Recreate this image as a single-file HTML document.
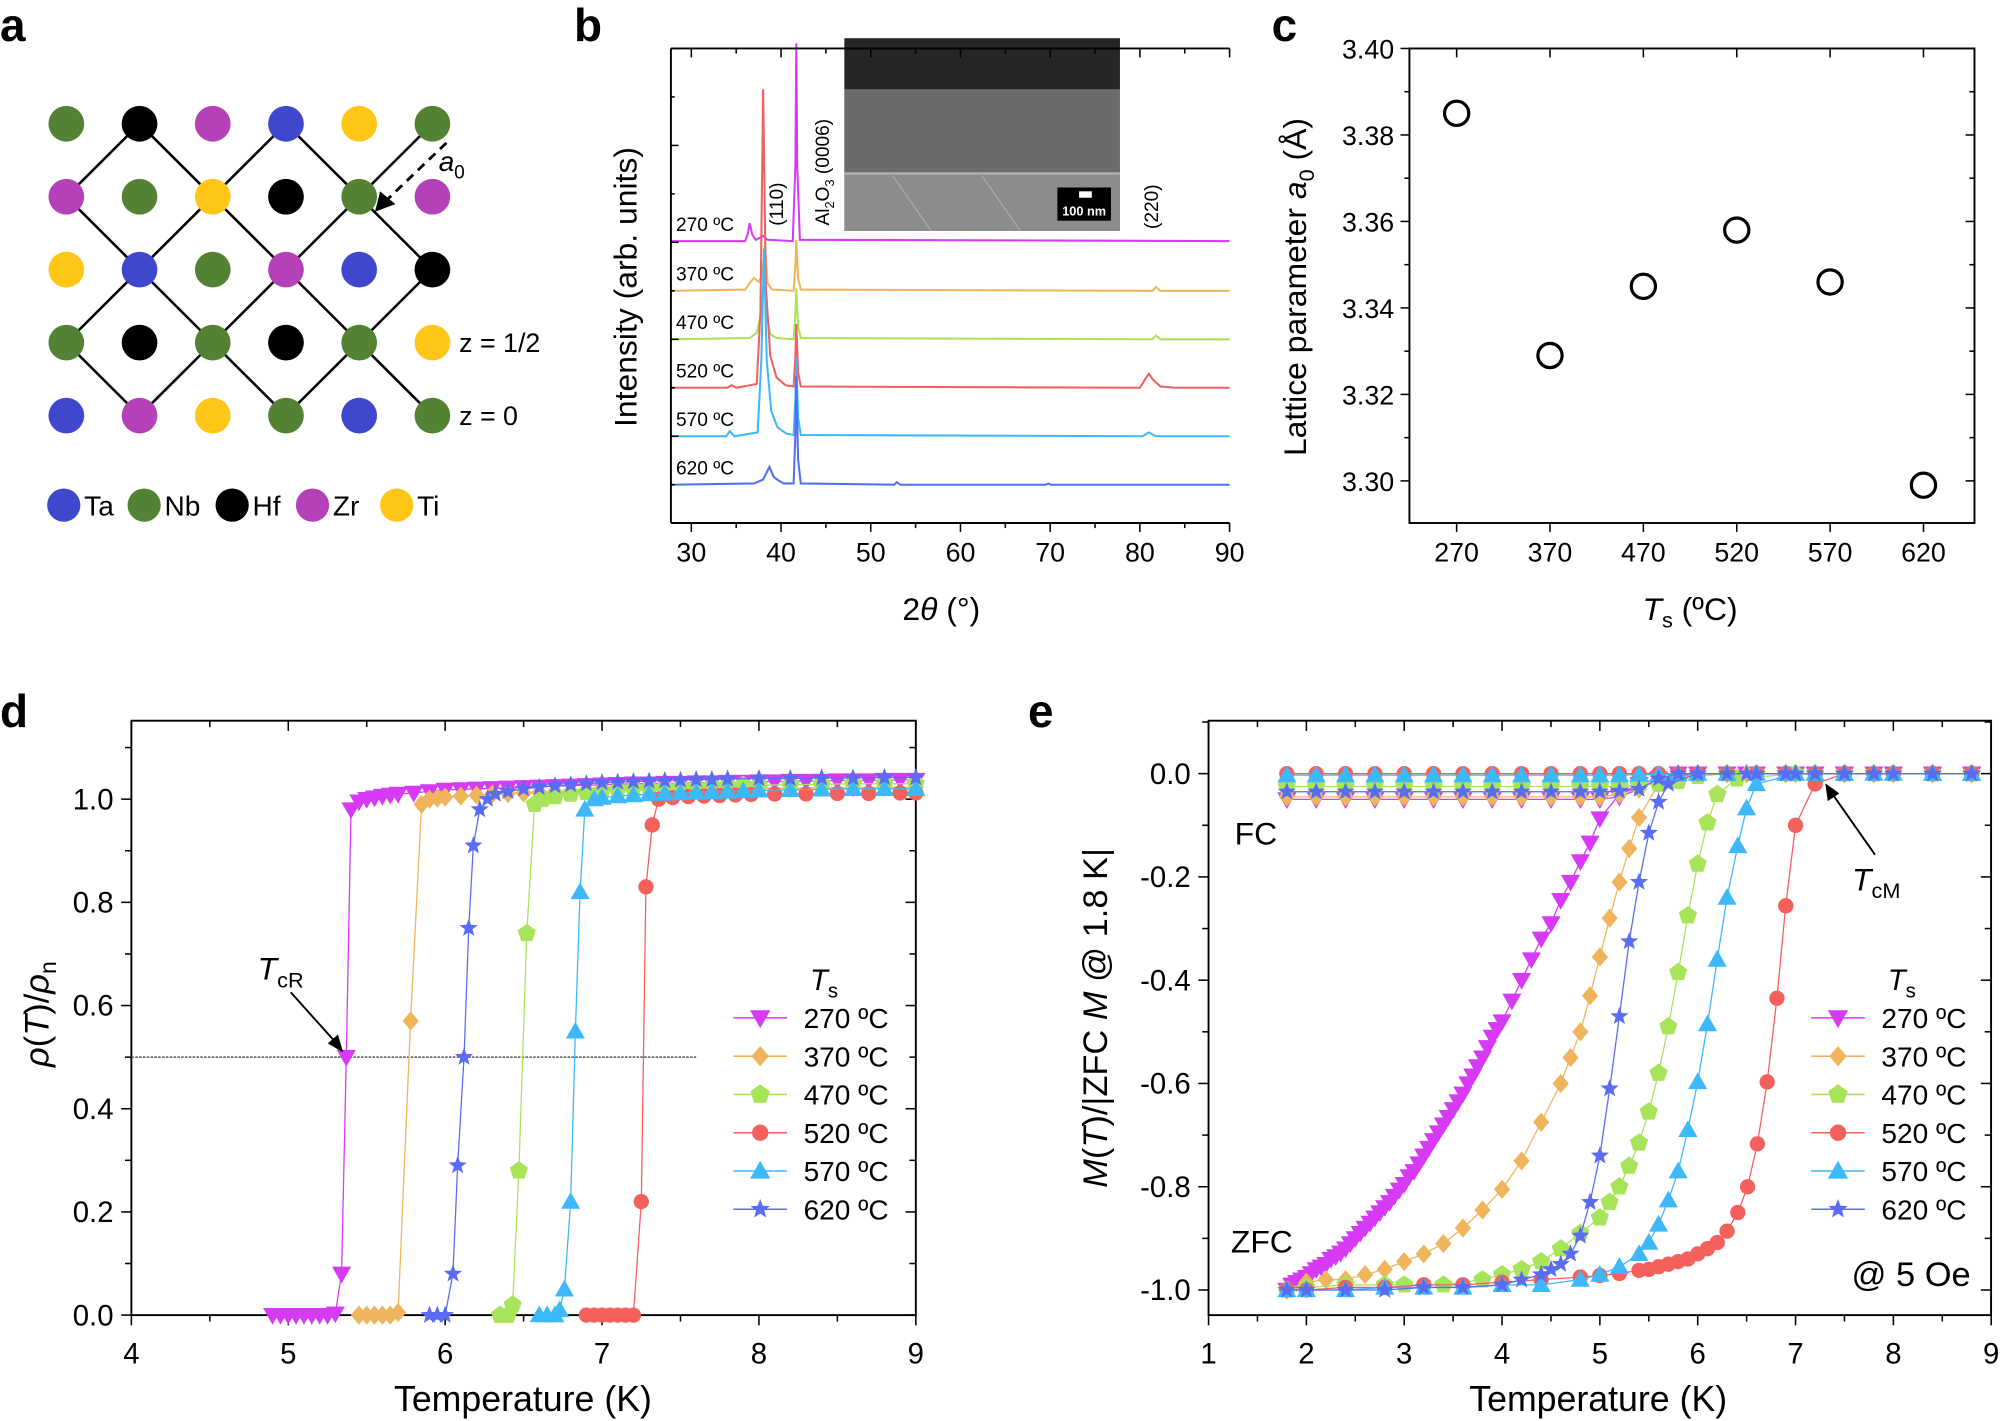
<!DOCTYPE html>
<html><head><meta charset="utf-8"><style>
html,body{margin:0;padding:0;background:#fff;}
svg{display:block;font-family:"Liberation Sans",Arial,sans-serif;}
</style></head><body>
<svg id="fig" xmlns="http://www.w3.org/2000/svg" width="2000" height="1421" viewBox="0 0 1568 1114" preserveAspectRatio="none">
<rect x="0" y="0" width="1568" height="1114" fill="#fff"/>
<g font-weight="bold" font-size="36" fill="#000">
<text x="0" y="32">a</text>
<text x="450" y="32">b</text>
<text x="997" y="32">c</text>
<text x="0" y="570">d</text>
<text x="806" y="570">e</text>
</g>
<g id="pa"></g>
<g id="pb"></g>
<g id="pc"></g>
<g id="pd"></g>
<g id="pe"></g>
</svg>
<script>
// ---------- DATA ----------
const latticeGrid=[["Nb","Hf","Zr","Ta","Ti","Nb"],["Zr","Nb","Ti","Hf","Nb","Zr"],["Ti","Ta","Nb","Zr","Ta","Hf"],["Nb","Hf","Nb","Hf","Nb","Ti"],["Ta","Zr","Ti","Nb","Ta","Nb"]];
const elementNames=["Ta","Nb","Hf","Zr","Ti"];
const sampleLabels=["270 ºC","370 ºC","470 ºC","520 ºC","570 ºC","620 ºC"];
const xrdTicks=[30,40,50,60,70,80,90];
const xrd270=[[27.7,0],[36,0],[36.3,6],[36.5,14],[36.8,5],[37.2,1],[38,4],[38.5,1],[41.3,0],[41.6,60],[41.7,155],[41.8,60],[42.1,1],[90,0]];
const xrd370=[[27.7,0],[36,1],[36.6,7],[37,10],[37.5,7],[37.9,12],[38.2,36],[38.5,6],[39,1],[41.4,0],[41.6,20],[41.7,40],[41.9,10],[42.2,1],[81.4,0],[81.8,3],[82.3,0],[90,0]];
const xrd470=[[27.7,0],[36.5,1],[37.3,5],[37.8,20],[38.1,50],[38.4,20],[38.8,4],[39.5,1],[41.4,0],[41.6,20],[41.7,40],[41.9,10],[42.2,1],[81.4,0],[81.8,3],[82.3,0],[90,0]];
const xrd520=[[27.7,0],[34,0],[34.5,2],[35,0],[37.3,3],[37.7,60],[38,234],[38.3,80],[38.8,25],[39.5,8],[40.5,2],[41.4,1],[41.6,25],[41.7,50],[41.9,12],[42.2,1],[80,0],[80.7,8],[81,11],[81.5,6],[82.3,1],[84,0],[90,0]];
const xrd570=[[27.7,0],[33.9,0],[34.3,4],[34.8,0],[37.4,3],[37.8,60],[38.1,147],[38.4,60],[38.9,20],[39.6,7],[40.6,2],[41.4,1],[41.6,30],[41.7,62],[41.9,15],[42.2,1],[80.3,0],[81,3],[81.8,0],[90,0]];
const xrd620=[[27.7,0],[37,1],[38,4],[38.7,14],[39.2,6],[39.8,3],[40.3,1],[41.4,1],[41.6,40],[41.7,85],[41.9,20],[42.2,1],[52.6,0],[52.9,2],[53.3,0],[69.5,0],[69.8,1],[70.1,0],[90,0]];
const xrdSeries=[xrd270,xrd370,xrd470,xrd520,xrd570,xrd620];

const tsCats=["270","370","470","520","570","620"];
const latticeA=[3.385,3.329,3.345,3.358,3.346,3.299];
const cYTicks=[3.30,3.32,3.34,3.36,3.38,3.40];

const dXTicks=[4,5,6,7,8,9];
const dYTicks=[0.0,0.2,0.4,0.6,0.8,1.0];
const rT270=[4.9,4.95,5.0,5.05,5.1,5.15,5.2,5.25,5.3,5.34,5.37,5.40,5.45,5.5,5.55,5.6,5.65,5.7,5.8,5.9,6.0,6.1,6.2,6.3,6.4,6.5,6.6,6.7,6.8,6.9,7.0,7.1,7.2,7.3,7.4,7.5,7.6,7.7,7.8,7.9,8.0,8.1,8.2,8.3,8.4,8.5,8.6,8.7,8.8,8.9,9.0];
const rV270=[0,0,0,0,0,0,0,0,0.003,0.08,0.5,0.98,0.995,1.0,1.003,1.006,1.008,1.01,1.012,1.015,1.018,1.019,1.02,1.021,1.022,1.023,1.024,1.025,1.026,1.027,1.028,1.029,1.03,1.03,1.031,1.031,1.032,1.032,1.033,1.033,1.034,1.034,1.035,1.035,1.035,1.036,1.036,1.036,1.037,1.037,1.037];
const rT370=[5.45,5.5,5.55,5.6,5.65,5.7,5.78,5.85,5.9,5.95,6.0,6.1,6.2,6.3,6.4,6.5,6.6,6.7,6.8,6.9,7.0,7.1,7.2,7.3,7.4,7.5,7.6,7.7,7.8,7.9,8.0,8.2,8.4,8.6,8.8,9.0];
const rV370=[0,0,0,0,0,0.005,0.57,0.99,1.0,1.002,1.004,1.006,1.008,1.01,1.011,1.012,1.013,1.014,1.015,1.016,1.016,1.017,1.017,1.018,1.018,1.019,1.019,1.02,1.02,1.02,1.021,1.021,1.022,1.022,1.023,1.023];
const rT470=[6.35,6.4,6.43,6.47,6.52,6.57,6.62,6.7,6.8,6.9,7.0,7.1,7.2,7.3,7.4,7.5,7.6,7.7,7.8,7.9,8.0,8.2,8.4,8.6,8.8,9.0];
const rV470=[0,0,0.02,0.28,0.74,0.99,1.0,1.005,1.01,1.013,1.016,1.018,1.02,1.021,1.022,1.023,1.024,1.025,1.026,1.027,1.027,1.028,1.029,1.03,1.03,1.03];
const rT520=[6.9,6.95,7.0,7.05,7.1,7.15,7.2,7.25,7.28,7.32,7.36,7.45,7.55,7.65,7.75,7.85,7.95,8.1,8.3,8.5,8.7,8.9,9.0];
const rV520=[0,0,0,0,0,0,0,0.22,0.83,0.95,1.0,1.003,1.005,1.006,1.007,1.008,1.009,1.01,1.01,1.011,1.011,1.012,1.012];
const rT570=[6.6,6.65,6.7,6.73,6.76,6.8,6.83,6.86,6.89,6.95,7.0,7.1,7.2,7.3,7.4,7.5,7.6,7.7,7.8,7.9,8.0,8.2,8.4,8.6,8.8,9.0];
const rV570=[0,0,0,0.01,0.05,0.22,0.55,0.82,0.98,1.0,1.003,1.006,1.008,1.01,1.011,1.012,1.013,1.014,1.015,1.016,1.017,1.018,1.019,1.02,1.02,1.02];
const rT620=[5.9,5.95,6.0,6.05,6.08,6.12,6.15,6.18,6.22,6.27,6.32,6.4,6.5,6.6,6.7,6.8,6.9,7.0,7.1,7.2,7.3,7.4,7.5,7.6,7.7,7.8,8.0,8.2,8.4,8.6,8.8,9.0];
const rV620=[0,0,0,0.08,0.29,0.5,0.75,0.91,0.98,1.0,1.01,1.015,1.02,1.023,1.026,1.028,1.03,1.032,1.033,1.034,1.035,1.036,1.037,1.038,1.038,1.039,1.04,1.04,1.041,1.041,1.042,1.042];
const rTs=[rT270,rT370,rT470,rT520,rT570,rT620];
const rVs=[rV270,rV370,rV470,rV520,rV570,rV620];

const eXTicks=[1,2,3,4,5,6,7,8,9];
const eYTicks=[0.0,-0.2,-0.4,-0.6,-0.8,-1.0];
const zT270=[1.8,1.85,1.9,1.95,2.0,2.05,2.1,2.15,2.2,2.25,2.3,2.35,2.4,2.45,2.5,2.55,2.6,2.65,2.7,2.75,2.8,2.85,2.9,2.95,3.0,3.05,3.1,3.15,3.2,3.25,3.3,3.35,3.4,3.45,3.5,3.55,3.6,3.65,3.7,3.75,3.8,3.85,3.9,3.95,4.0,4.1,4.2,4.3,4.4,4.5,4.6,4.7,4.8,4.9,5.0,5.2,5.4,5.6,6.0,6.5,7.0,7.5,8.0,8.4,8.8];
const zM270=[-1.0,-0.99,-0.985,-0.98,-0.975,-0.968,-0.96,-0.955,-0.95,-0.94,-0.935,-0.928,-0.92,-0.91,-0.9,-0.89,-0.88,-0.87,-0.86,-0.85,-0.84,-0.83,-0.818,-0.806,-0.795,-0.78,-0.77,-0.755,-0.74,-0.725,-0.71,-0.695,-0.68,-0.665,-0.65,-0.635,-0.62,-0.6,-0.585,-0.567,-0.55,-0.53,-0.51,-0.495,-0.48,-0.44,-0.40,-0.36,-0.32,-0.29,-0.245,-0.21,-0.17,-0.134,-0.087,-0.04,-0.02,-0.01,0,0,0,0,0,0,0];
const zT370=[1.8,2.0,2.2,2.4,2.6,2.8,3.0,3.2,3.4,3.6,3.8,4.0,4.2,4.4,4.6,4.7,4.8,4.9,5.0,5.1,5.2,5.3,5.4,5.6,6.0,6.5,7.0,7.5,8.0,8.4,8.8];
const zM370=[-1.0,-0.985,-0.98,-0.98,-0.97,-0.96,-0.945,-0.93,-0.91,-0.88,-0.845,-0.805,-0.75,-0.675,-0.60,-0.55,-0.50,-0.43,-0.355,-0.28,-0.21,-0.145,-0.085,-0.02,0,0,0,0,0,0,0];
const zT470=[1.8,2.0,2.4,2.8,3.0,3.4,3.8,4.0,4.2,4.4,4.6,4.8,5.0,5.1,5.2,5.3,5.4,5.5,5.6,5.7,5.8,5.9,6.0,6.1,6.2,6.4,7.0,7.5,8.0,8.4,8.8];
const zM470=[-1.0,-0.995,-0.99,-0.99,-0.99,-0.99,-0.98,-0.97,-0.96,-0.945,-0.92,-0.89,-0.86,-0.83,-0.80,-0.76,-0.715,-0.655,-0.58,-0.49,-0.385,-0.275,-0.175,-0.095,-0.04,-0.01,0,0,0,0,0];
const zT520=[1.8,2.0,2.4,2.8,3.2,3.6,4.0,4.4,4.8,5.0,5.2,5.4,5.5,5.6,5.7,5.8,5.9,6.0,6.1,6.2,6.3,6.41,6.51,6.61,6.71,6.81,6.9,7.0,7.2,7.5,8.0,8.4,8.8];
const zM520=[-1.0,-1.0,-0.995,-0.995,-0.99,-0.99,-0.985,-0.98,-0.975,-0.972,-0.968,-0.962,-0.96,-0.955,-0.95,-0.945,-0.94,-0.93,-0.92,-0.908,-0.886,-0.85,-0.80,-0.717,-0.597,-0.435,-0.256,-0.10,-0.02,0,0,0,0];
const zT570=[1.8,2.0,2.4,2.8,3.2,3.6,4.0,4.4,4.8,5.0,5.2,5.4,5.5,5.6,5.7,5.8,5.9,6.0,6.1,6.2,6.3,6.41,6.5,6.6,7.0,7.5,8.0,8.4,8.8];
const zM570=[-1.0,-1.0,-1.0,-0.995,-0.995,-0.995,-0.99,-0.99,-0.98,-0.97,-0.955,-0.93,-0.908,-0.873,-0.826,-0.77,-0.69,-0.597,-0.485,-0.36,-0.24,-0.14,-0.067,-0.02,0,0,0,0,0];
const zT620=[1.8,2.0,2.4,2.8,3.2,3.6,4.0,4.2,4.4,4.5,4.6,4.7,4.8,4.9,5.0,5.1,5.2,5.3,5.4,5.5,5.6,5.7,6.0,6.5,7.0,7.5,8.0,8.4,8.8];
const zM620=[-1.0,-1.0,-1.0,-1.0,-0.995,-0.995,-0.99,-0.98,-0.97,-0.96,-0.95,-0.93,-0.895,-0.83,-0.74,-0.61,-0.47,-0.325,-0.21,-0.115,-0.055,-0.02,0,0,0,0,0,0,0];
const zTs=[zT270,zT370,zT470,zT520,zT570,zT620];
const zMs=[zM270,zM370,zM470,zM520,zM570,zM620];
const fcT=[1.8,2.1,2.4,2.7,3.0,3.3,3.6,3.9,4.2,4.5,4.8,5.0,5.2,5.4,5.6,5.8,6.0,6.3,6.6,6.9,7.2,7.5,7.8,8.4,8.8];
const fcM270=[-0.05,-0.05,-0.05,-0.05,-0.05,-0.05,-0.05,-0.05,-0.05,-0.05,-0.05,-0.05,-0.045,-0.03,-0.01,0,0,0,0,0,0,0,0,0,0];
const fcM370=[-0.045,-0.045,-0.045,-0.045,-0.045,-0.045,-0.045,-0.045,-0.045,-0.045,-0.045,-0.045,-0.04,-0.03,-0.01,0,0,0,0,0,0,0,0,0,0];
const fcM470=[-0.025,-0.025,-0.025,-0.025,-0.025,-0.025,-0.025,-0.025,-0.025,-0.025,-0.025,-0.025,-0.025,-0.022,-0.02,-0.015,-0.005,0,0,0,0,0,0,0,0];
const fcM520=[0,0,0,0,0,0,0,0,0,0,0,0,0,0,0,0,0,0,0,0,0,0,0,0,0];
const fcM570=[-0.003,-0.003,-0.003,-0.003,-0.003,-0.003,-0.003,-0.003,-0.003,-0.003,-0.003,-0.003,-0.003,-0.002,-0.002,-0.001,0,0,0,0,0,0,0,0,0];
const fcM620=[-0.035,-0.035,-0.035,-0.035,-0.035,-0.035,-0.035,-0.035,-0.035,-0.035,-0.035,-0.035,-0.034,-0.03,-0.01,0,0,0,0,0,0,0,0,0,0];
const fcMs=[fcM270,fcM370,fcM470,fcM520,fcM570,fcM620];

// ---------- STYLE ----------
const elemColor={Ta:"#3f48cc",Nb:"#548235",Hf:"#000000",Zr:"#b541b8",Ti:"#ffc618"};
const sColors=["#d63af5","#f0b55c","#a8e45a","#f5605c","#3db8fa","#5a6cf2"];
const xrdColors=["#d63af5","#f0b55c","#a8e45a","#f06060","#3db8fa","#5070f0"];
const markerTypes=["tdown","diamond","pent","circle","tup","star"];
const NS="http://www.w3.org/2000/svg";
function mk(tag,attrs,parent){const e=document.createElementNS(NS,tag);for(const k in attrs)e.setAttribute(k,attrs[k]);parent.appendChild(e);return e;}
function txt(s,attrs,parent){const e=mk("text",attrs,parent);e.textContent=s;return e;}
function markerPts(type,x,y,r){
  let p=[];
  if(type==="tdown")p=[[x-r,y-r*0.75],[x+r,y-r*0.75],[x,y+r]];
  else if(type==="tup")p=[[x-r,y+r*0.75],[x+r,y+r*0.75],[x,y-r]];
  else if(type==="diamond")p=[[x,y-r],[x+r*0.85,y],[x,y+r],[x-r*0.85,y]];
  else if(type==="pent"){for(let k=0;k<5;k++){const a=(-90+72*k)*Math.PI/180;p.push([x+r*Math.cos(a),y+r*Math.sin(a)]);}}
  else if(type==="star"){for(let k=0;k<10;k++){const a=(-90+36*k)*Math.PI/180;const rr=k%2?r*0.42:r;p.push([x+rr*Math.cos(a),y+rr*Math.sin(a)]);}}
  return p.map(q=>q[0].toFixed(1)+","+q[1].toFixed(1)).join(" ");
}
function marker(type,x,y,r,color,parent){
  let e;
  if(type==="circle")e=mk("circle",{cx:x,cy:y,r:r*0.8,fill:color},parent);
  else e=mk("polygon",{points:markerPts(type,x,y,r),fill:color},parent);
  return e;
}

// ---------- PANEL A ----------
const pa=document.getElementById("pa");
const ax0=52,ay0=97,adx=57.4,ady=57.2;
for(let r=0;r<5;r++)for(let c=0;c<6;c++){
  if((r+c)%2===1&&r<4){
    [-1,1].forEach(d=>{const c2=c+d;if(c2>=0&&c2<6&&((r+1+c2)%2===1)){
      const l=mk("line",{x1:ax0+c*adx,y1:ay0+r*ady,x2:ax0+c2*adx,y2:ay0+(r+1)*ady,stroke:"#000","stroke-width":2},pa);
      
      }});
  }
}
latticeGrid.forEach((row,r)=>row.forEach((el,c)=>{
  const ci=mk("ellipse",{cx:ax0+c*adx,cy:ay0+r*ady,rx:14,ry:14,fill:elemColor[el]},pa);
  
  
}));
const arr=mk("line",{x1:350,y1:112,x2:302,y2:158,stroke:"#000","stroke-width":2.2,"stroke-dasharray":"7,5"},pa);


mk("polygon",{points:"294,166 298,150 310,160",fill:"#000"},pa);
const a0=txt("a",{x:344,y:134,"font-size":22,"font-style":"italic"},pa);


txt("0",{x:356,y:140,"font-size":15},pa);
const z1=txt("z = 1/2",{x:360,y:276,"font-size":21},pa);


const z0=txt("z = 0",{x:360,y:333,"font-size":21},pa);


const legX=[50,113,182,245,311];
elementNames.forEach((el,i)=>{
  const ci=mk("ellipse",{cx:legX[i],cy:396,rx:13,ry:13,fill:elemColor[el]},pa);
  
  
  const t=txt(el,{x:legX[i]+16,y:404,"font-size":22},pa);
  
  
});

// ---------- PANEL B ----------
const pb=document.getElementById("pb");
const bL=526,bR=964,bT=38,bB=410;
const xb=t=>542+(t-30)*(422/60);
const baseY=[189,228,266,304,342,380];
const yb=(i,v)=>baseY[i]-v;
const ins=mk("g",{},pb);


mk("rect",{x:662,y:30,width:216,height:151,fill:"#7a7a7a"},ins);
mk("rect",{x:662,y:30,width:216,height:40,fill:"#262626"},ins);
mk("rect",{x:662,y:70,width:216,height:66,fill:"#6b6b6b"},ins);
mk("rect",{x:662,y:136,width:216,height:45,fill:"#8c8c8c"},ins);
mk("line",{x1:662,y1:136,x2:878,y2:136,stroke:"#b0b0b0","stroke-width":2},ins);
mk("line",{x1:700,y1:138,x2:730,y2:181,stroke:"#aaa","stroke-width":1},ins);
mk("line",{x1:770,y1:138,x2:800,y2:181,stroke:"#aaa","stroke-width":1},ins);
mk("rect",{x:829,y:147,width:42,height:26,fill:"#000"},ins);
mk("rect",{x:846,y:150,width:10,height:5,fill:"#fff"},ins);
txt("100 nm",{x:850,y:169,"font-size":10,"font-weight":"bold",fill:"#fff","text-anchor":"middle"},ins);
xrdSeries.forEach((s,i)=>{
  const d=s.map((p,k)=>(k?"L":"M")+xb(p[0]).toFixed(1)+","+yb(i,p[1]).toFixed(1)).join(" ");
  const pth=mk("path",{d:d,fill:"none",stroke:xrdColors[i],"stroke-width":1.6},pb);
  
  
  const lt=txt(sampleLabels[i],{x:530,y:baseY[i]-8,"font-size":15},pb);
  
  
});
mk("line",{x1:bL,y1:bT,x2:bL,y2:bB,stroke:"#000","stroke-width":1.5},pb);
mk("line",{x1:bL,y1:bB,x2:bR,y2:bB,stroke:"#000","stroke-width":1.5},pb);
mk("line",{x1:bL,y1:bT,x2:bR,y2:bT,stroke:"#000","stroke-width":1.5},pb);
[38,114,190,266,342].forEach(y=>mk("line",{x1:bL,y1:y,x2:bL+6,y2:y,stroke:"#000","stroke-width":1.2},pb));
[76,152,228,304,380].forEach(y=>mk("line",{x1:bL,y1:y,x2:bL+3,y2:y,stroke:"#000","stroke-width":1.2},pb));
for(let t=30;t<=90;t+=5){const x=xb(t);const L=t%10===0?7:4;
  mk("line",{x1:x,y1:bB,x2:x,y2:bB+L,stroke:"#000","stroke-width":1.2},pb);
  mk("line",{x1:x,y1:bT,x2:x,y2:bT+L,stroke:"#000","stroke-width":1.2},pb);}
xrdTicks.forEach(t=>{const e=txt(String(t),{x:xb(t),y:440,"font-size":21,"text-anchor":"middle"},pb);
  
  });
const bxt=txt("",{x:738,y:486,"font-size":25,"text-anchor":"middle"},pb);
bxt.innerHTML='2<tspan font-style="italic">θ</tspan> (°)';


const byt=txt("Intensity (arb. units)",{x:0,y:0,"font-size":25,"text-anchor":"middle",transform:"translate(499,225) rotate(-90)"},pb);


const p110=txt("(110)",{x:0,y:0,"font-size":15,"text-anchor":"middle",transform:"translate(614,160) rotate(-90)"},pb);


const pal=txt("",{x:0,y:0,"font-size":15,"text-anchor":"middle",transform:"translate(650,135) rotate(-90)"},pb);
pal.innerHTML='Al<tspan font-size="10" dy="4">2</tspan><tspan dy="-4">O</tspan><tspan font-size="10" dy="4">3</tspan><tspan dy="-4"> (0006)</tspan>';


const p220=txt("(220)",{x:0,y:0,"font-size":15,"text-anchor":"middle",transform:"translate(908,162) rotate(-90)"},pb);



// ---------- PANEL C ----------
const pc=document.getElementById("pc");
const cL=1105,cR=1548,cT=38,cB=410;
const xc=i=>1142+i*73.2;
const yc=v=>377-(v-3.30)*(339/0.10);
mk("rect",{x:cL,y:cT,width:cR-cL,height:cB-cT,fill:"none",stroke:"#000","stroke-width":1.5},pc);
cYTicks.forEach(v=>{const y=yc(v);
  mk("line",{x1:cL-7,y1:y,x2:cL,y2:y,stroke:"#000","stroke-width":1.2},pc);
  mk("line",{x1:cR,y1:y,x2:cR-7,y2:y,stroke:"#000","stroke-width":1.2},pc);
  const e=txt(v.toFixed(2),{x:cL-12,y:y+8,"font-size":21,"text-anchor":"end"},pc);
  
  
  if(v<3.40){const y2=yc(v+0.01);mk("line",{x1:cL-4,y1:y2,x2:cL,y2:y2,stroke:"#000","stroke-width":1.2},pc);mk("line",{x1:cR,y1:y2,x2:cR-4,y2:y2,stroke:"#000","stroke-width":1.2},pc);}
});
tsCats.forEach((c,i)=>{const x=xc(i);
  mk("line",{x1:x,y1:cB,x2:x,y2:cB+7,stroke:"#000","stroke-width":1.2},pc);
  mk("line",{x1:x,y1:cT,x2:x,y2:cT+7,stroke:"#000","stroke-width":1.2},pc);
  const e=txt(c,{x:x,y:440,"font-size":21,"text-anchor":"middle"},pc);
  
  
  const p=mk("circle",{cx:x,cy:yc(latticeA[i]),r:9.5,fill:"none",stroke:"#000","stroke-width":2.5},pc);
  
  
});
const cxt=txt("",{x:1325,y:486,"font-size":25,"text-anchor":"middle"},pc);
cxt.innerHTML='<tspan font-style="italic">T</tspan><tspan font-size="17" dy="6">s</tspan><tspan dy="-6"> (ºC)</tspan>';


const cyt=txt("",{x:0,y:0,"font-size":25,"text-anchor":"middle",transform:"translate(1024,225) rotate(-90)"},pc);
cyt.innerHTML='Lattice parameter <tspan font-style="italic">a</tspan><tspan font-size="17" dy="6">0</tspan><tspan dy="-6"> (Å)</tspan>';



// ---------- common axis drawer ----------
function frame(g,L,R,T,B,xt,xf,xminor,yt,yf,yminor,ydec){
  mk("rect",{x:L,y:T,width:R-L,height:B-T,fill:"none",stroke:"#000","stroke-width":1.5},g);
  xt.forEach(v=>{const x=xf(v);
    mk("line",{x1:x,y1:B,x2:x,y2:B+8,stroke:"#000","stroke-width":1.2},g);
    mk("line",{x1:x,y1:T,x2:x,y2:T+8,stroke:"#000","stroke-width":1.2},g);
    const e=txt(String(v),{x:x,y:B+38,"font-size":23,"text-anchor":"middle"},g);
    
    });
  xminor.forEach(v=>{const x=xf(v);mk("line",{x1:x,y1:B,x2:x,y2:B+5,stroke:"#000","stroke-width":1.2},g);mk("line",{x1:x,y1:T,x2:x,y2:T+5,stroke:"#000","stroke-width":1.2},g);});
  yt.forEach(v=>{const y=yf(v);
    mk("line",{x1:L-8,y1:y,x2:L,y2:y,stroke:"#000","stroke-width":1.2},g);
    mk("line",{x1:R,y1:y,x2:R-8,y2:y,stroke:"#000","stroke-width":1.2},g);
    const e=txt(v.toFixed(ydec),{x:L-14,y:y+8,"font-size":23,"text-anchor":"end"},g);
    
    });
  yminor.forEach(v=>{const y=yf(v);mk("line",{x1:L-5,y1:y,x2:L,y2:y,stroke:"#000","stroke-width":1.2},g);mk("line",{x1:R,y1:y,x2:R-5,y2:y,stroke:"#000","stroke-width":1.2},g);});
}
function legend(g,x0,y0){
  const t=txt("",{x:x0+60,y:y0-22,"font-size":23},g);
  t.innerHTML='<tspan font-style="italic">T</tspan><tspan font-size="16" dy="6">s</tspan>';
  
  
  sampleLabels.forEach((s,i)=>{const y=y0+i*30;
    const le=mk("g",{},g);
    
    
    mk("line",{x1:x0,y1:y,x2:x0+42,y2:y,stroke:sColors[i],"stroke-width":1.2},le);
    marker(markerTypes[i],x0+21,y,8,sColors[i],le);
    txt(s,{x:x0+55,y:y+8,"font-size":22},le);});
}

// ---------- PANEL D ----------
const pd=document.getElementById("pd");
const dL=103,dR=718,dT=565,dB=1031;
const xd=t=>dL+(t-4)*123;
const yd=v=>dB-v*404.5;
frame(pd,dL,dR,dT,dB,dXTicks,xd,[4.5,5.5,6.5,7.5,8.5],dYTicks,yd,[0.1,0.3,0.5,0.7,0.9,1.1],1);
mk("line",{x1:xd(4),y1:yd(0.5),x2:xd(7.6),y2:yd(0.5),stroke:"#555","stroke-width":1.2,"stroke-dasharray":"2,1"},pd);
rTs.forEach((T,i)=>{
  const s=mk("g",{},pd);
  
  
  mk("polyline",{points:T.map((t,k)=>xd(t).toFixed(1)+","+yd(rVs[i][k]).toFixed(1)).join(" "),fill:"none",stroke:sColors[i],"stroke-width":1},s);
  T.forEach((t,k)=>marker(markerTypes[i],xd(t),yd(rVs[i][k]),7.5,sColors[i],s));
});
const tcr=txt("",{x:202,y:768,"font-size":25},pd);
tcr.innerHTML='<tspan font-style="italic">T</tspan><tspan font-size="17" dy="6">cR</tspan>';


mk("line",{x1:228,y1:778,x2:263,y2:817,stroke:"#000","stroke-width":1.5},pd);
mk("polygon",{points:"269,825 257,818 265,811",fill:"#000"},pd);
legend(pd,575,798);
const dxt=txt("Temperature (K)",{x:410,y:1106,"font-size":28,"text-anchor":"middle"},pd);


const dyt=txt("",{x:0,y:0,"font-size":27,"text-anchor":"middle",transform:"translate(38,795) rotate(-90)"},pd);
dyt.innerHTML='<tspan font-style="italic">ρ</tspan>(<tspan font-style="italic">T</tspan>)/<tspan font-style="italic">ρ</tspan><tspan font-size="18" dy="6">n</tspan>';



// ---------- PANEL E ----------
const pe=document.getElementById("pe");
const eL=947.5,eR=1561,eT=565,eB=1031;
const xe=t=>eL+(t-1)*76.7;
const ye=v=>606.5-v*404.8;
frame(pe,eL,eR,eT,eB,eXTicks,xe,[1.5,2.5,3.5,4.5,5.5,6.5,7.5,8.5],eYTicks,ye,[0.1,-0.1,-0.3,-0.5,-0.7,-0.9],1);
zTs.forEach((T,i)=>{
  const s=mk("g",{},pe);
  
  
  mk("polyline",{points:T.map((t,k)=>xe(t).toFixed(1)+","+ye(zMs[i][k]).toFixed(1)).join(" "),fill:"none",stroke:sColors[i],"stroke-width":1},s);
  T.forEach((t,k)=>marker(markerTypes[i],xe(t),ye(zMs[i][k]),7.5,sColors[i],s));
  const f=mk("g",{},pe);
  
  
  mk("polyline",{points:fcT.map((t,k)=>xe(t).toFixed(1)+","+ye(fcMs[i][k]).toFixed(1)).join(" "),fill:"none",stroke:sColors[i],"stroke-width":1},f);
  fcT.forEach((t,k)=>marker(markerTypes[i],xe(t),ye(fcMs[i][k]),7.5,sColors[i],f));
});
const fcl=txt("FC",{x:968,y:662,"font-size":25},pe);


const zfcl=txt("ZFC",{x:965,y:982,"font-size":25},pe);


const oe=txt("@ 5 Oe",{x:1545,y:1008,"font-size":27,"text-anchor":"end"},pe);


const tcm=txt("",{x:1452,y:698,"font-size":25},pe);
tcm.innerHTML='<tspan font-style="italic">T</tspan><tspan font-size="17" dy="6">cM</tspan>';


mk("line",{x1:1470,y1:670,x2:1437,y2:623,stroke:"#000","stroke-width":1.5},pe);
mk("polygon",{points:"1431,614 1433,628 1442,622",fill:"#000"},pe);
legend(pe,1420,798);
const ext=txt("Temperature (K)",{x:1253,y:1106,"font-size":28,"text-anchor":"middle"},pe);


const eyt=txt("",{x:0,y:0,"font-size":27,"text-anchor":"middle",transform:"translate(868,798) rotate(-90)"},pe);
eyt.innerHTML='<tspan font-style="italic">M</tspan>(<tspan font-style="italic">T</tspan>)/|ZFC <tspan font-style="italic">M</tspan> @ 1.8 K|';


</script>
</body></html>
